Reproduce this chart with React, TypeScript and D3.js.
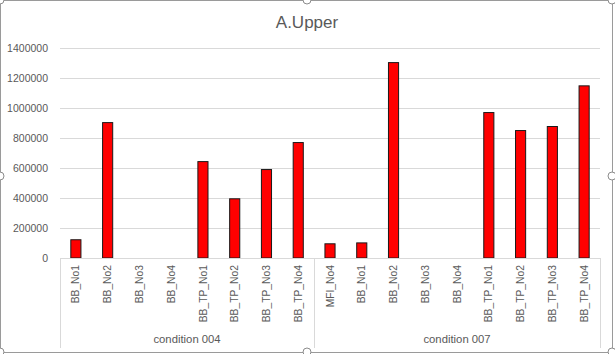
import * as d3 from 'd3';
import React from 'react';

// chart data
const groups = ['condition 004', 'condition 007'];
const group004 = ['BB_No1', 'BB_No2', 'BB_No3', 'BB_No4', 'BB_TP_No1', 'BB_TP_No2', 'BB_TP_No3', 'BB_TP_No4'];
const group007 = ['MFI_No4', 'BB_No1', 'BB_No2', 'BB_No3', 'BB_No4', 'BB_TP_No1', 'BB_TP_No2', 'BB_TP_No3', 'BB_TP_No4'];
const values004 = [125000, 906000, 0, 0, 646000, 398000, 593000, 773000];
const values007 = [98000, 104000, 1306000, 0, 0, 973000, 853000, 880000, 1151000];
const yTicks = [0, 200000, 400000, 600000, 800000, 1000000, 1200000, 1400000];

const W = 615;
const H = 354;
const left = 60;
const right = 600;
const top = 48;
const bottom = 258;
const font = '"Liberation Sans", Arial, sans-serif';
const textColor = '#595959';
const gridColor = '#d9d9d9';

export default function App() {
    // one row per bar, keyed by group index so repeated names stay apart
    const rows = [
        ...group004.map((c, i) => ({ key: '0-' + i, label: c, value: values004[i] })),
        ...group007.map((c, i) => ({ key: '1-' + i, label: c, value: values007[i] })),
    ];
    const groupSizes = [group004.length, group007.length];

    const x = d3.scaleBand()
        .domain(rows.map(r => r.key))
        .range([left, right])
        .paddingInner(0.65)
        .paddingOuter(0.325);
    const step = x.step();

    const y = d3.scaleLinear()
        .domain([0, 1400000])
        .range([bottom, top]);

    // group boundaries along the x axis
    const bounds = [left];
    groupSizes.forEach(n => bounds.push(bounds[bounds.length - 1] + n * step));

    const handles = [
        [0, 0], [307, 0], [612, 0],
        [0, 176], [612, 176],
        [0, 352], [307, 352], [612, 352],
    ];

    return (
        <div style={{ position: 'fixed', left: 0, top: 0 }}>
            <svg width={W} height={H} style={{ display: 'block', background: '#fff' }}>
                <rect x={0.5} y={0.5} width={612} height={352} fill="#fff" stroke="#9a9a9a" rx={2} />

                <text x={307} y={28} textAnchor="middle" fontFamily={font} fontSize={17} fill={textColor}>A.Upper</text>

                {yTicks.map(t => (
                    <g key={t}>
                        {t > 0 && <line x1={left} x2={right} y1={Math.round(y(t)) + 0.5} y2={Math.round(y(t)) + 0.5} stroke={gridColor} />}
                        <text x={48} y={y(t)} dy="0.35em" textAnchor="end" fontFamily={font} fontSize={10.5} fill={textColor}>{t}</text>
                    </g>
                ))}

                {rows.map(r => (
                    <rect key={r.key}
                        x={x(r.key)! + 0.5}
                        y={y(r.value) + 0.5}
                        width={x.bandwidth() - 1}
                        height={Math.max(0, y(0) - y(r.value) - 0.5)}
                        fill="#ff0000" stroke="#1a1a1a" strokeWidth={1}
                        display={r.value > 0 ? null : 'none'} />
                ))}

                <line x1={left} x2={right} y1={bottom + 0.5} y2={bottom + 0.5} stroke={gridColor} />
                {bounds.map((b, i) => (
                    <line key={i} x1={Math.round(b) + 0.5} x2={Math.round(b) + 0.5} y1={bottom} y2={348} stroke={gridColor} />
                ))}

                {rows.map(r => {
                    const cx = x(r.key)! + x.bandwidth() / 2;
                    return (
                        <text key={r.key} transform={`translate(${cx},265) rotate(-90)`}
                            textAnchor="end" dy="0.35em" fontFamily={font} fontSize={10.3} fill={textColor}>{r.label}</text>
                    );
                })}

                {groups.map((g, i) => (
                    <text key={g} x={(bounds[i] + bounds[i + 1]) / 2} y={343} textAnchor="middle"
                        fontFamily={font} fontSize={11.3} fill={textColor}>{g}</text>
                ))}

                {handles.map(([hx, hy], i) => (
                    <circle key={i} cx={hx} cy={hy} r={4} fill="#fff" stroke="#8c8c8c" />
                ))}
            </svg>
        </div>
    );
}
